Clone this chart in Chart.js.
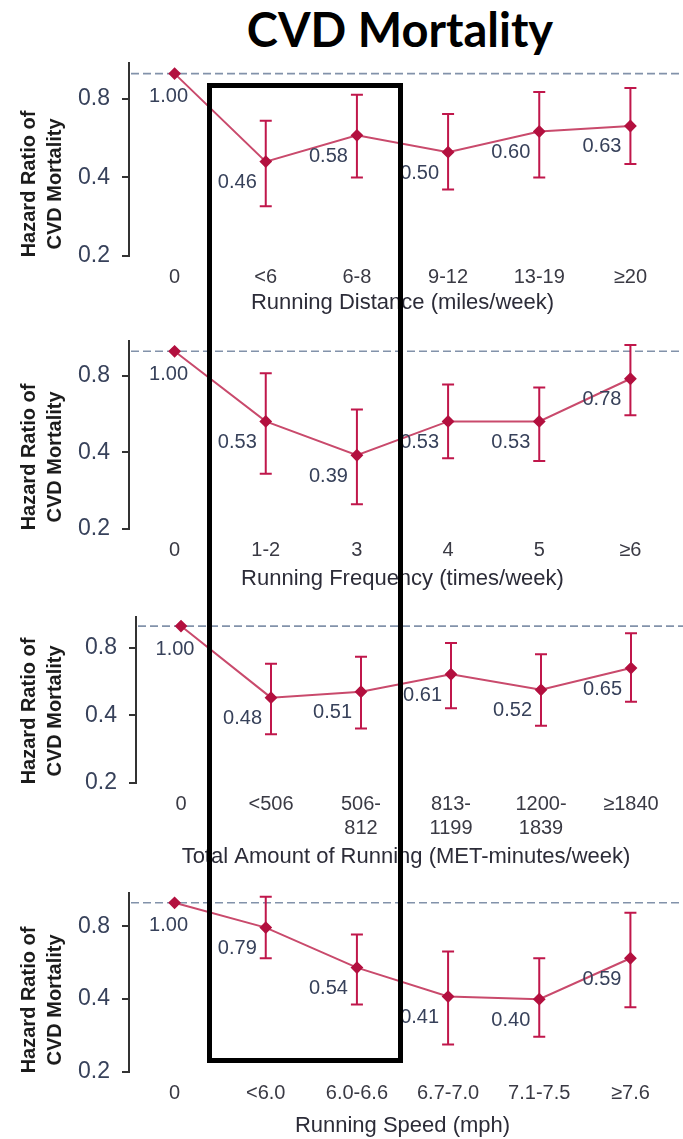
<!DOCTYPE html>
<html>
<head>
<meta charset="utf-8">
<script src="https://cdn.jsdelivr.net/npm/chart.js@4.4.1/dist/chart.umd.min.js"></script>
<style>
    body { margin: 0; background: #fff; }
    #page { position: relative; width: 683px; height: 1139px; overflow: hidden; background: #fff; }
    #title {
        position: absolute; left: 400px; top: 1px; transform: translateX(-50%);
        font: bold 47px Lato, "Open Sans", sans-serif; color: #000; white-space: nowrap;
    }
    .panel { position: absolute; left: 0; width: 683px; }
    #box {
        position: absolute; left: 207px; top: 83px; width: 186px; height: 970px;
        border: 5px solid #000; pointer-events: none;
    }
</style>
</head>
<body>
<div id="page">
    <div id="title">CVD Mortality</div>
    <div class="panel" style="top:37px;height:279px"><canvas id="c1" width="683" height="279"></canvas></div>
    <div class="panel" style="top:315px;height:277px"><canvas id="c2" width="683" height="277"></canvas></div>
    <div class="panel" style="top:591px;height:279px"><canvas id="c3" width="683" height="279"></canvas></div>
    <div class="panel" style="top:867px;height:272px"><canvas id="c4" width="683" height="272"></canvas></div>
    <div id="box"></div>
</div>
<script>
// ========== DATOS ==========
const yTicks = [0.2, 0.4, 0.8];

const distCats = ["0", "<6", "6-8", "9-12", "13-19", "≥20"];
const distHR = [1.00, 0.46, 0.58, 0.50, 0.60, 0.63];
const distLo = [null, 0.31, 0.40, 0.36, 0.40, 0.45];
const distHi = [null, 0.66, 0.83, 0.70, 0.85, 0.88];

const freqCats = ["0", "1-2", "3", "4", "5", "≥6"];
const freqHR = [1.00, 0.53, 0.39, 0.53, 0.53, 0.78];
const freqLo = [null, 0.33, 0.25, 0.38, 0.37, 0.56];
const freqHi = [null, 0.82, 0.59, 0.74, 0.72, 1.06];

const totalCats = ["0", "<506", ["506-", "812"], ["813-", "1199"], ["1200-", "1839"], "≥1840"];
const totalHR = [1.00, 0.48, 0.51, 0.61, 0.52, 0.65];
const totalLo = [null, 0.33, 0.35, 0.43, 0.36, 0.46];
const totalHi = [null, 0.68, 0.73, 0.84, 0.75, 0.93];

const speedCats = ["0", "<6.0", "6.0-6.6", "6.7-7.0", "7.1-7.5", "≥7.6"];
const speedHR = [1.00, 0.79, 0.54, 0.41, 0.40, 0.59];
const speedLo = [null, 0.59, 0.38, 0.26, 0.28, 0.37];
const speedHi = [null, 1.06, 0.74, 0.63, 0.59, 0.91];

// ========== ESTILO ==========
const RED = "#c0174b";
const LINE = "#c94a6c";
const TXT = "#37415a";
const FONT = "'Liberation Sans', Arial, sans-serif";

// barras de error, línea de referencia, etiquetas y título del eje Y
const hrPlugin = {
    id: "hr",
    beforeDatasetsDraw(chart, args, opts) {
        const { ctx, chartArea, scales: { x, y } } = chart;
        const y1 = y.getPixelForValue(1);
        ctx.save();
        ctx.strokeStyle = "#8292aa";
        ctx.lineWidth = 1.6;
        ctx.setLineDash([8, 4]);
        ctx.beginPath();
        ctx.moveTo(chartArea.left + 2, y1);
        ctx.lineTo(chart.width, y1);
        ctx.stroke();
        ctx.setLineDash([]);
        ctx.strokeStyle = RED;
        ctx.lineWidth = 2;
        opts.lo.forEach((lo, i) => {
            if (lo == null) return;
            const px = x.getPixelForValue(i);
            const a = y.getPixelForValue(lo);
            const b = y.getPixelForValue(opts.hi[i]);
            ctx.beginPath();
            ctx.moveTo(px, a); ctx.lineTo(px, b);
            ctx.moveTo(px - 6, a); ctx.lineTo(px + 6, a);
            ctx.moveTo(px - 6, b); ctx.lineTo(px + 6, b);
            ctx.stroke();
        });
        ctx.restore();
    },
    afterDatasetsDraw(chart, args, opts) {
        const { ctx, chartArea } = chart;
        const pts = chart.getDatasetMeta(0).data;
        ctx.save();
        ctx.font = "20px " + FONT;
        ctx.fillStyle = TXT;
        ctx.textBaseline = "middle";
        opts.vals.forEach((v, i) => {
            const p = pts[i];
            if (i === 0) {
                ctx.textAlign = "center";
                ctx.fillText(v.toFixed(2), p.x - 6, p.y + 23);
            } else {
                ctx.textAlign = "right";
                ctx.fillText(v.toFixed(2), p.x - 9, p.y + 21);
            }
        });
        // título del eje Y
        ctx.translate(0, chartArea.bottom - 72);
        ctx.rotate(-Math.PI / 2);
        ctx.font = "bold 20px " + FONT;
        ctx.fillStyle = "#1c1c1c";
        ctx.textAlign = "center";
        ctx.fillText("Hazard Ratio of", 0, 29);
        ctx.fillText("CVD Mortality", 0, 55);
        ctx.restore();
    },
};

function crearPanel(id, cats, hr, lo, hi, xTitle, axisW, xh) {
    new Chart(document.getElementById(id), {
        type: "line",
        data: {
            labels: cats,
            datasets: [{
                data: hr,
                borderColor: LINE,
                borderWidth: 2,
                pointStyle: "rectRot",
                pointRadius: 5,
                pointBackgroundColor: "#b3103f",
                pointBorderColor: "#b3103f",
                tension: 0,
            }],
        },
        options: {
            responsive: false,
            animation: false,
            layout: { padding: { top: 10, right: 2, left: 0, bottom: 0 } },
            plugins: {
                legend: { display: false },
                tooltip: { enabled: false },
                hr: { vals: hr, lo: lo, hi: hi },
            },
            scales: {
                x: {
                    offset: true,
                    grid: { display: false },
                    border: { display: false },
                    ticks: {
                        color: "#3a3a44", font: { family: FONT, size: 20 },
                        padding: 1, maxRotation: 0, autoSkip: false,
                    },
                    title: {
                        display: true, text: xTitle, color: "#2c2c38",
                        font: { family: FONT, size: 22 }, padding: { top: 0, bottom: 0 },
                    },
                    afterFit: (s) => { s.height = xh; },
                },
                y: {
                    type: "logarithmic",
                    min: 0.2,
                    max: 1.1,
                    afterBuildTicks: (s) => { s.ticks = yTicks.map((v) => ({ value: v })); },
                    afterFit: (s) => { s.width = axisW; },
                    ticks: {
                        color: TXT, font: { family: FONT, size: 23 }, padding: 12,
                        callback: (v) => Number(v).toFixed(1),
                    },
                    grid: { drawOnChartArea: false, tickLength: 7, color: "#333", lineWidth: 2 },
                    border: { color: "#333", width: 2 },
                },
            },
        },
        plugins: [hrPlugin],
    });
}

crearPanel("c1", distCats, distHR, distLo, distHi, "Running Distance (miles/week)", 129, 60);
crearPanel("c2", freqCats, freqHR, freqLo, freqHi, "Running Frequency (times/week)", 129, 63);
crearPanel("c3", totalCats, totalHR, totalLo, totalHi, "Total Amount of Running (MET-minutes/week)", 136, 87);
crearPanel("c4", speedCats, speedHR, speedLo, speedHi, "Running Speed (mph)", 129, 67);
</script>
</body>
</html>
